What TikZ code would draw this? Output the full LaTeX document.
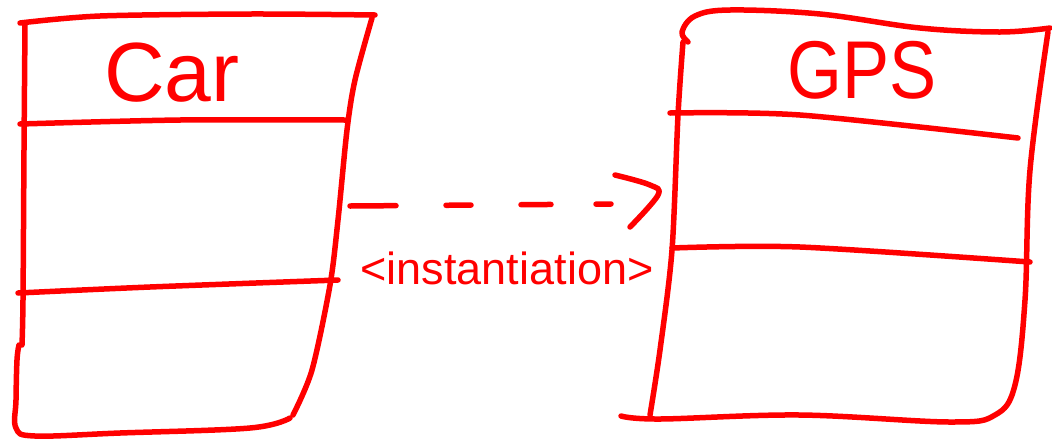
\documentclass[tikz,border=0pt]{standalone}
\usepackage{fontspec}
\setmainfont{Liberation Sans}
\begin{document}
\begin{tikzpicture}[x=1pt,y=-1pt,
  pen/.style={draw=red,line width=5.5pt,line cap=round,line join=round},
  lbl/.style={text=red,inner sep=0pt}]
\useasboundingbox (0,0) rectangle (1052,440);
% Car box
\draw[pen] plot[smooth,tension=0.5] coordinates {(20,23) (100,16) (250,14) (375,15)};
\draw[pen] plot[smooth,tension=0.5] coordinates {(25,25) (24,150) (23,300) (22,345)};
\draw[pen] plot[smooth,tension=0.6] coordinates {(19,345) (17,360) (16,400) (16,428) (35,436) (120,433) (250,428) (290,418)};
\draw[pen] plot[smooth,tension=0.5] coordinates {(372,18) (355,80) (347,130) (338,220) (330,285) (312,370) (293,415)};
\draw[pen] plot[smooth,tension=0.5] coordinates {(20,124) (180,120) (345,120)};
\draw[pen] plot[smooth,tension=0.5] coordinates {(18,293) (150,287) (338,280)};
\node[lbl,font=\fontsize{84}{84}\selectfont] (car) at (172,73) {Car};
% GPS box
\draw[pen] plot[smooth,tension=0.6] coordinates {(688,42) (682,32) (695,16) (730,10) (820,14) (920,28) (1000,32) (1050,28)};
\draw[pen] plot[smooth,tension=0.5] coordinates {(683,42) (678,115) (672,250) (660,350) (650,415)};
\draw[pen] plot[smooth,tension=0.6] coordinates {(621,416) (660,419) (800,415) (950,422) (995,415) (1015,385) (1025,300) (1030,170) (1048,32)};
\draw[pen] plot[smooth,tension=0.5] coordinates {(670,113) (800,115) (1018,138)};
\draw[pen] plot[smooth,tension=0.5] coordinates {(672,248) (800,247) (1030,262)};
\node[lbl,font=\fontsize{82}{82}\selectfont] (gps) at (862,70) {\scalebox{0.86}[1]{GPS}};
% dependency arrow
\coordinate (a) at (350,206);
\coordinate (b) at (612,204);
\draw[pen,dash pattern=on 46pt off 50pt on 25pt off 50pt on 30pt off 45pt on 15pt off 40pt] (a) -- (b);
\draw[pen] plot[smooth,tension=0.6] coordinates {(615,175) (650,185) (658,195) (630,227)};
\node[lbl,font=\fontsize{45}{45}\selectfont] (inst) at (507,268) {<instantiation>};
\end{tikzpicture}
\end{document}
